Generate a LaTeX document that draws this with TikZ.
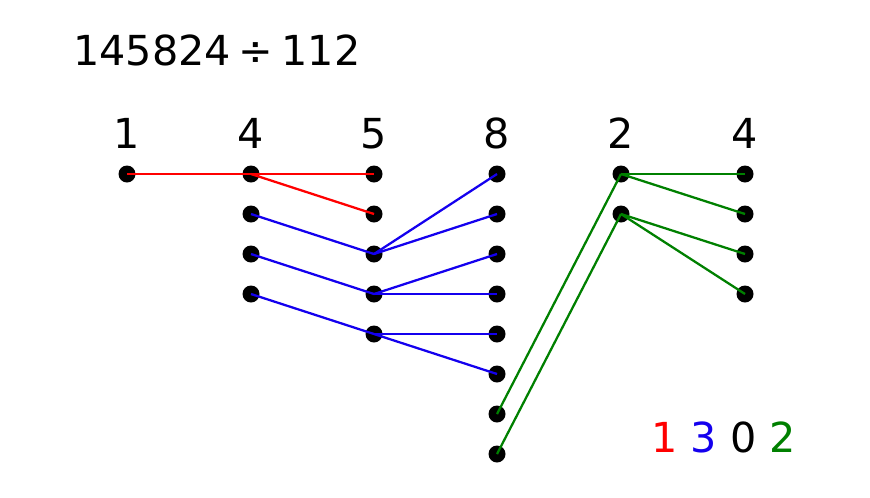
\documentclass[tikz,border=0pt]{standalone}
\usepackage{fontspec}
\setmainfont{DejaVu Sans}
\definecolor{lred}{RGB}{255,0,0}
\definecolor{lblue}{RGB}{20,0,238}
\definecolor{lgreen}{RGB}{0,128,0}
\begin{document}
\begin{tikzpicture}[x=0.75pt,y=-0.75pt,
  dot/.style={circle,fill=black,inner sep=0pt,minimum size=12.75pt},
  lbl/.style={inner sep=0pt,font=\fontsize{31}{31}\selectfont},
  redl/.style={draw=lred,line width=1.7pt},
  bluel/.style={draw=lblue,line width=1.7pt},
  greenl/.style={draw=lgreen,line width=1.7pt}]
\useasboundingbox (0,0) rectangle (870,497);
% title
\node[lbl,anchor=base west] (title) at (73,65) {145824\kern6pt÷\kern6pt112};
% column labels
\node[lbl,anchor=base] (h0) at (127,148) {1};
\node[lbl,anchor=base] (h1) at (251,148) {4};
\node[lbl,anchor=base] (h2) at (374,148) {5};
\node[lbl,anchor=base] (h3) at (497,148) {8};
\node[lbl,anchor=base] (h4) at (621,148) {2};
\node[lbl,anchor=base] (h5) at (745,148) {4};
% dots
\node[dot] (c0r0) at (127,174) {};
\foreach \r in {0,...,3} \node[dot] (c1r\r) at (251,174+40*\r) {};
\foreach \r in {0,...,4} \node[dot] (c2r\r) at (374,174+40*\r) {};
\foreach \r in {0,...,7} \node[dot] (c3r\r) at (497,174+40*\r) {};
\foreach \r in {0,...,1} \node[dot] (c4r\r) at (621,174+40*\r) {};
\foreach \r in {0,...,3} \node[dot] (c5r\r) at (745,174+40*\r) {};
% red
\draw[redl] (c0r0.center) -- (c2r0.center);
\draw[redl] (c1r0.center) -- (c2r1.center);
% blue
\draw[bluel] (c1r1.center) -- (c2r2.center);
\draw[bluel] (c1r2.center) -- (c2r3.center);
\draw[bluel] (c1r3.center) -- (c2r4.center);
\draw[bluel] (c2r2.center) -- (c3r0.center);
\draw[bluel] (c2r2.center) -- (c3r1.center);
\draw[bluel] (c2r3.center) -- (c3r2.center);
\draw[bluel] (c2r3.center) -- (c3r3.center);
\draw[bluel] (c2r4.center) -- (c3r4.center);
\draw[bluel] (c2r4.center) -- (c3r5.center);
% green
\draw[greenl] (c3r6.center) -- (c4r0.center);
\draw[greenl] (c3r7.center) -- (c4r1.center);
\draw[greenl] (c4r0.center) -- (c5r0.center);
\draw[greenl] (c4r0.center) -- (c5r1.center);
\draw[greenl] (c4r1.center) -- (c5r2.center);
\draw[greenl] (c4r1.center) -- (c5r3.center);
% result
\node[lbl,anchor=base] (res) at (723.5,452) {\textcolor{lred}{1} \textcolor{lblue}{3} 0 \textcolor{lgreen}{2}};
\end{tikzpicture}
\end{document}
